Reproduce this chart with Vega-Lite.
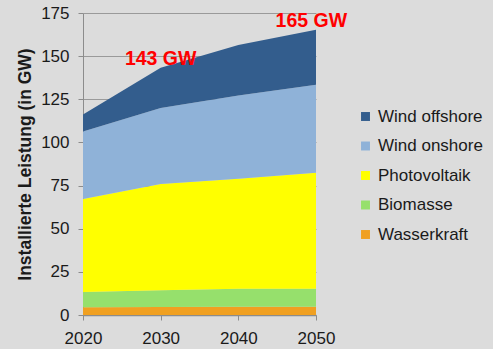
{
  "$schema": "https://vega.github.io/schema/vega-lite/v6.json",
  "width": 233,
  "height": 302,
  "autosize": "none",
  "padding": {"left": 83, "top": 13, "right": 177, "bottom": 34},
  "background": "#dcdcdc",
  "config": {
    "view": {"stroke": null},
    "font": "Liberation Sans",
    "axis": {"labelFont": "Liberation Sans", "titleFont": "Liberation Sans", "labelColor": "#1a1a1a", "titleColor": "#1a1a1a"},
    "legend": {"labelFont": "Liberation Sans"}
  },
  "datasets": {
    "cap": [
      {"year": 2020, "source": "Wasserkraft", "o": 1, "gw": 4.5},
      {"year": 2020, "source": "Biomasse", "o": 2, "gw": 8.8},
      {"year": 2020, "source": "Photovoltaik", "o": 3, "gw": 53.9},
      {"year": 2020, "source": "Wind onshore", "o": 4, "gw": 39.2},
      {"year": 2020, "source": "Wind offshore", "o": 5, "gw": 9.8},
      {"year": 2030, "source": "Wasserkraft", "o": 1, "gw": 4.7},
      {"year": 2030, "source": "Biomasse", "o": 2, "gw": 9.7},
      {"year": 2030, "source": "Photovoltaik", "o": 3, "gw": 61.5},
      {"year": 2030, "source": "Wind onshore", "o": 4, "gw": 44.0},
      {"year": 2030, "source": "Wind offshore", "o": 5, "gw": 23.4},
      {"year": 2040, "source": "Wasserkraft", "o": 1, "gw": 4.8},
      {"year": 2040, "source": "Biomasse", "o": 2, "gw": 10.4},
      {"year": 2040, "source": "Photovoltaik", "o": 3, "gw": 63.8},
      {"year": 2040, "source": "Wind onshore", "o": 4, "gw": 48.2},
      {"year": 2040, "source": "Wind offshore", "o": 5, "gw": 29.2},
      {"year": 2050, "source": "Wasserkraft", "o": 1, "gw": 4.8},
      {"year": 2050, "source": "Biomasse", "o": 2, "gw": 10.4},
      {"year": 2050, "source": "Photovoltaik", "o": 3, "gw": 67.2},
      {"year": 2050, "source": "Wind onshore", "o": 4, "gw": 51.0},
      {"year": 2050, "source": "Wind offshore", "o": 5, "gw": 31.9}
    ],
    "notes": [
      {"year": 2030, "gw": 148.5, "label": "143 GW"},
      {"year": 2049.4, "gw": 170.1, "label": "165 GW"}
    ]
  },
  "layer": [
    {
      "data": {"name": "cap"},
      "mark": {"type": "area", "interpolate": "linear"},
      "encoding": {
        "x": {
          "field": "year", "type": "quantitative",
          "scale": {"domain": [2020, 2050], "nice": false, "zero": false},
          "axis": {
            "values": [2020, 2030, 2040, 2050], "format": "d", "title": null,
            "grid": false, "labelFontSize": 17, "tickSize": 5, "labelPadding": 10,
            "domainColor": "#8c8c8c", "domainWidth": 1.5, "tickColor": "#8c8c8c",
            "labelFlush": false
          }
        },
        "y": {
          "field": "gw", "type": "quantitative", "stack": "zero",
          "scale": {"domain": [0, 175], "nice": false},
          "axis": {
            "values": [0, 25, 50, 75, 100, 125, 150, 175],
            "title": "Installierte Leistung (in GW)", "titleFontSize": 17.5,
            "titleFontWeight": "bold", "titlePadding": 6,
            "labelFontSize": 17, "tickSize": 5, "labelPadding": 9,
            "grid": true, "gridColor": "#9a9a9a", "gridWidth": 1,
            "domainColor": "#8c8c8c", "tickColor": "#8c8c8c"
          }
        },
        "color": {
          "field": "source", "type": "nominal",
          "scale": {
            "domain": ["Wind offshore", "Wind onshore", "Photovoltaik", "Biomasse", "Wasserkraft"],
            "range": ["#335d8d", "#8fb2d8", "#ffff00", "#96e06c", "#f0a021"]
          },
          "legend": {
            "title": null, "orient": "none", "legendX": 274, "legendY": 95,
            "symbolType": "square", "symbolSize": 80, "symbolStrokeWidth": 0,
            "labelFontSize": 17, "labelColor": "#1a1a1a", "labelOffset": 4,
            "rowPadding": 11.5
          }
        },
        "order": {"field": "o", "type": "quantitative"}
      }
    },
    {
      "data": {"name": "notes"},
      "mark": {"type": "text", "color": "#ff0000", "fontWeight": "bold", "fontSize": 19.5, "font": "Liberation Sans", "baseline": "middle", "align": "center"},
      "encoding": {
        "x": {"field": "year", "type": "quantitative"},
        "y": {"field": "gw", "type": "quantitative"},
        "text": {"field": "label"}
      }
    }
  ]
}
